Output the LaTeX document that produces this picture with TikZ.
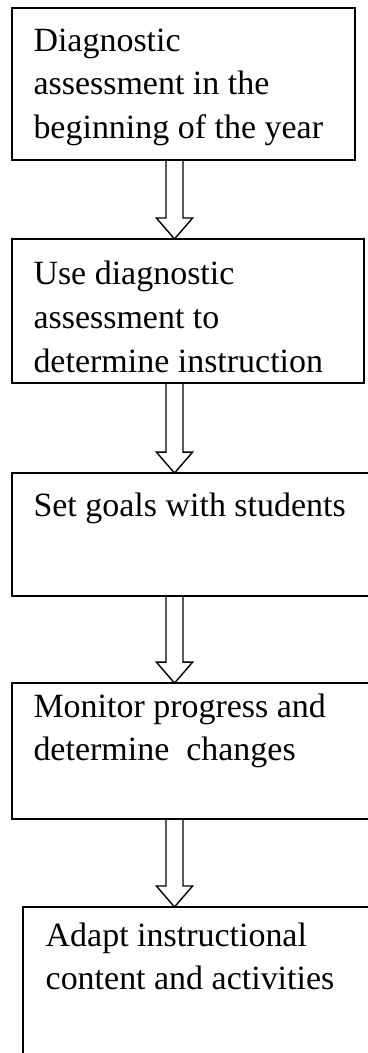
\documentclass[tikz,border=0pt]{standalone}
\usepackage{fontspec}
\setmainfont{Liberation Serif}
\usepackage{tikz}
\usetikzlibrary{positioning,calc}

% hollow block arrow from one point straight down to another
\newcommand{\blockarrow}[2]{%
  \draw[line width=0.5pt, line join=miter] let \p1=(#1), \p2=(#2) in
    (\x1-3pt,\y1) -- (\x1-3pt,\y2+7.4pt) -- (\x1-6.4pt,\y2+7.4pt) -- (\x2,\y2)
    -- (\x1+6.4pt,\y2+7.4pt) -- (\x1+3pt,\y2+7.4pt) -- (\x1+3pt,\y1);}

\begin{document}
\begin{tikzpicture}[
        x=0.3533pt, y=-0.3533pt,
        stepbox/.style={rectangle, draw, line width=0.6pt, inner sep=0pt, outer sep=0pt, anchor=north west},
        txt/.style={align=left, inner sep=0pt, anchor=base west, font=\fontsize{12}{15.5}\selectfont}
    ]
        \clip (0,0) rectangle (368,1053);
        \coordinate (ax) at (174.5,0);

        \node[stepbox, minimum width=121.2pt, minimum height=53.7pt] (b1) at (12,8) {};
        \node[stepbox, below=27.9pt of b1.south west, anchor=north west, minimum width=124.4pt, minimum height=50.9pt] (b2) {};
        \node[stepbox, below=31.8pt of b2.south west, anchor=north west, minimum width=130.7pt, minimum height=43.5pt] (b3) {};
        \node[stepbox, below=30.7pt of b3.south west, anchor=north west, minimum width=130.7pt, minimum height=48pt] (b4) {};
        \node[stepbox, below=31.1pt of b4.south west, anchor=north west, xshift=3.9pt, minimum width=127.2pt, minimum height=56.5pt] (b5) {};

        % base anchor sits on the last line of each text
        \node[txt] (t1) at ([xshift=7.4pt, yshift=-46.2pt] b1.north west) {Diagnostic\\assessment in the\\beginning of the year};
        \begin{scope}
            \clip (b2.north west) rectangle ([yshift=3.4pt] b2.south east);
            \node[txt] (t2) at ([xshift=7.4pt, yshift=-47.2pt] b2.north west) {Use diagnostic\\assessment to\\determine instruction};
        \end{scope}
        \node[txt] (t3) at ([xshift=7.4pt, yshift=-15.5pt] b3.north west) {Set goals with students};
        \node[txt] (t4) at ([xshift=7.4pt, yshift=-27.5pt] b4.north west) {Monitor progress and\\determine\ \ changes};
        \node[txt] (t5) at ([xshift=7.8pt, yshift=-29.3pt] b5.north west) {Adapt instructional\\content and activities};

        \blockarrow{b1.south -| ax}{b2.north -| ax}
        \blockarrow{b2.south -| ax}{b3.north -| ax}
        \blockarrow{b3.south -| ax}{b4.north -| ax}
        \blockarrow{b4.south -| ax}{b5.north -| ax}
    \end{tikzpicture}
\end{document}
